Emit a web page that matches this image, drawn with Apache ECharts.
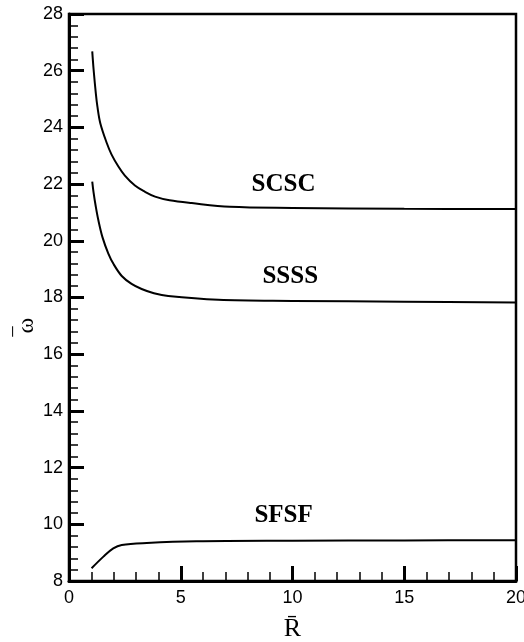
<!DOCTYPE html>
<html>
<head>
<meta charset="utf-8">
<script src="https://cdn.jsdelivr.net/npm/echarts@6/dist/echarts.min.js"></script>
<style>
  html, body { margin: 0; padding: 0; background: #fff; }
  #chart { width: 524px; height: 642px; }
</style>
</head>
<body>
<div id="chart"></div>
<script>
// curve data: [R, omega]
const scsc = [
  [1.04, 26.68], [1.1, 26.05], [1.2, 25.2], [1.27, 24.74], [1.4, 24.15],
  [1.69, 23.45], [1.9, 23.05], [2.21, 22.62], [2.5, 22.3], [2.95, 21.95],
  [3.4, 21.73], [3.85, 21.56], [4.5, 21.43], [5.49, 21.33], [7.2, 21.2],
  [10, 21.16], [15, 21.13], [20, 21.12]
];
const ssss = [
  [1.04, 22.09], [1.1, 21.7], [1.2, 21.2], [1.31, 20.74], [1.5, 20.12],
  [1.76, 19.55], [2.0, 19.17], [2.36, 18.76], [2.8, 18.48], [3.25, 18.3],
  [3.8, 18.15], [4.44, 18.05], [6.68, 17.92], [10, 17.88], [15, 17.85],
  [20, 17.82]
];
const sfsf = [
  [1.01, 8.45], [1.54, 8.86], [1.98, 9.15], [2.36, 9.27], [3.48, 9.34],
  [5.7, 9.4], [10, 9.42], [15, 9.43], [20, 9.44]
];
// curve labels: [R, omega, text]
const curveLabels = [
  [9.6, 22.0, 'SCSC'],
  [9.9, 18.73, 'SSSS'],
  [9.6, 10.3, 'SFSF']
];

const chart = echarts.init(document.getElementById('chart'));

function curve(name, data) {
  return {
    name: name,
    type: 'line',
    data: data,
    smooth: 0.35,
    showSymbol: false,
    lineStyle: { color: '#000', width: 2 },
    animation: false
  };
}

const tickFont = { color: '#000', fontFamily: 'Liberation Sans', fontSize: 18 };

chart.setOption({
  animation: false,
  backgroundColor: '#fff',
  grid: {
    left: 69, right: 8, top: 14, bottom: 61,
    outerBoundsMode: 'none',
    containLabel: false,
    show: true,
    borderColor: '#000',
    borderWidth: 2.5,
    backgroundColor: 'transparent'
  },
  xAxis: {
    type: 'value',
    min: 0, max: 20, interval: 5,
    name: 'R\u0304',
    nameLocation: 'middle',
    nameGap: 35,
    nameMoveOverlap: false,
    nameTextStyle: { fontFamily: 'Liberation Serif', fontSize: 26, color: '#000' },
    axisLine: { lineStyle: { color: '#000', width: 3 } },
    axisTick: { inside: true, length: 15, lineStyle: { color: '#000', width: 3 } },
    minorTick: { show: true, splitNumber: 5, length: 9, lineStyle: { color: '#000', width: 1.5 } },
    splitLine: { show: false },
    axisLabel: Object.assign({ margin: 8, showMaxLabel: true, showMinLabel: true }, tickFont)
  },
  yAxis: {
    type: 'value',
    min: 8, max: 28, interval: 2,
    name: '{bar|\u2013}\n{w|\u03c9}',
    nameLocation: 'middle',
    nameRotate: 90,
    nameGap: 31,
    nameMoveOverlap: false,
    nameTextStyle: {
      color: '#000',
      padding: [0, 56, 0, 0],
      rich: {
        bar: { fontFamily: 'Liberation Serif', fontSize: 20, lineHeight: 7, padding: [0, 12, 0, 0] },
        w: { fontFamily: 'Liberation Serif', fontSize: 24, lineHeight: 22 }
      }
    },
    axisLine: { lineStyle: { color: '#000', width: 3 } },
    axisTick: { inside: true, length: 15, lineStyle: { color: '#000', width: 3 } },
    minorTick: { show: true, splitNumber: 5, length: 9, lineStyle: { color: '#000', width: 1.5 } },
    splitLine: { show: false },
    axisLabel: Object.assign({ margin: 6 }, tickFont)
  },
  series: [
    curve('SCSC', scsc),
    curve('SSSS', ssss),
    curve('SFSF', sfsf),
    {
      type: 'scatter',
      data: curveLabels,
      symbolSize: 0,
      silent: true,
      itemStyle: { opacity: 1 },
      label: {
        show: true,
        position: 'inside',
        formatter: p => p.data[2],
        fontFamily: 'Liberation Serif',
        fontWeight: 'bold',
        fontSize: 25,
        color: '#000'
      }
    }
  ]
});
</script>
</body>
</html>
